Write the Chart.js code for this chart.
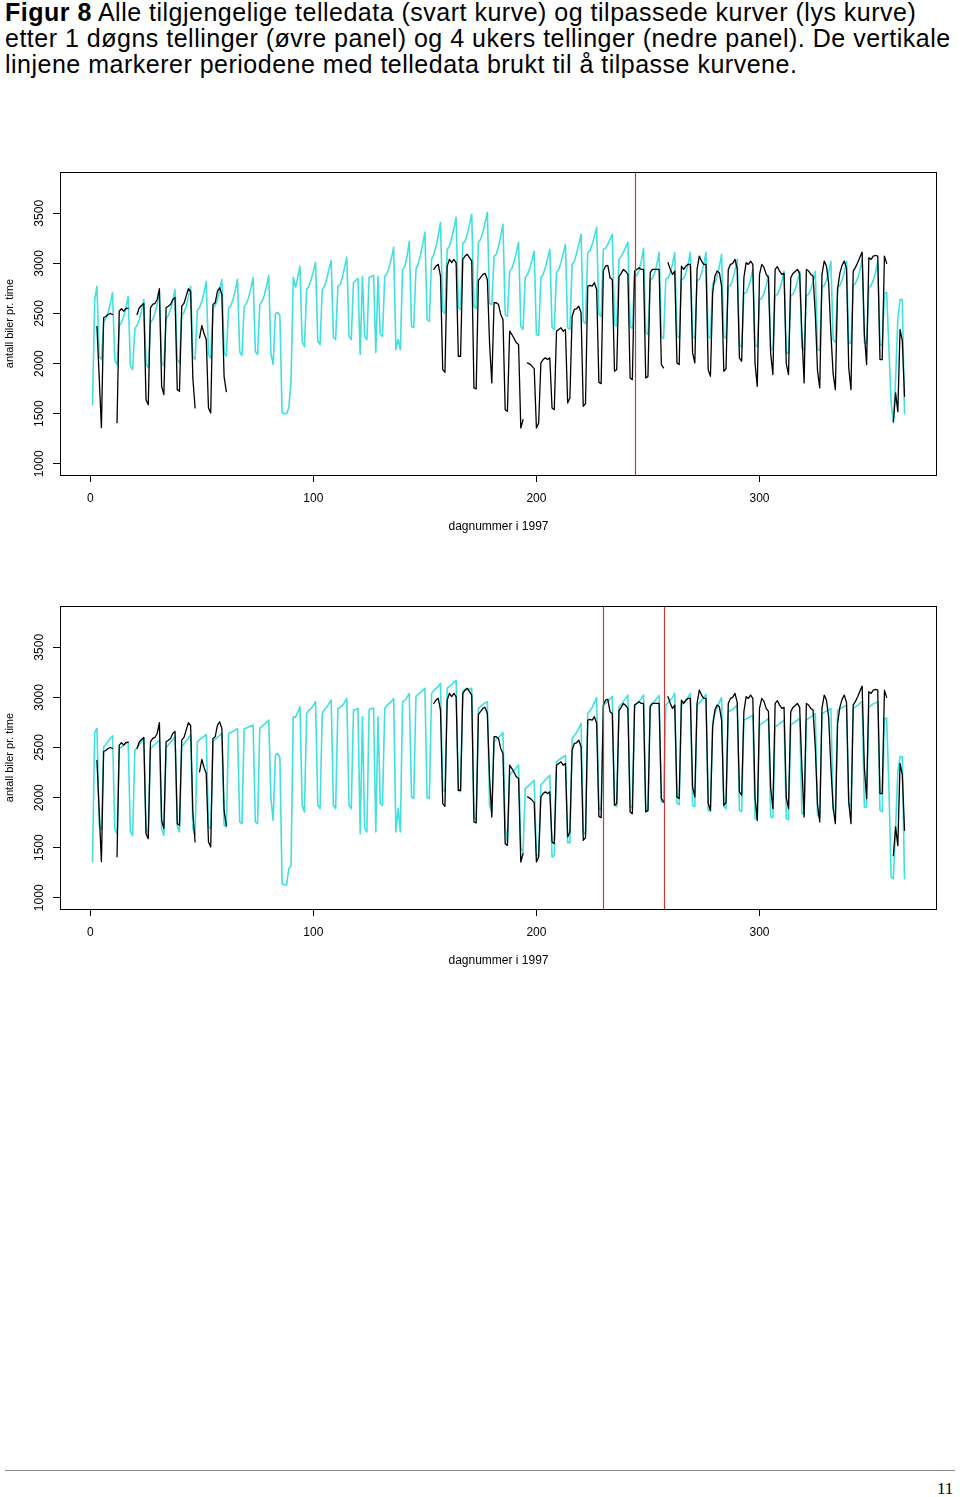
<!DOCTYPE html>
<html><head><meta charset="utf-8">
<script src="https://cdn.jsdelivr.net/npm/chart.js@4.4.1/dist/chart.umd.min.js"></script>
<style>
html,body{margin:0;padding:0;background:#fff;}
body{width:960px;height:1497px;position:relative;overflow:hidden;font-family:"Liberation Sans",Arial,sans-serif;}
#title{position:absolute;left:5px;top:-1px;font-size:25px;line-height:26px;color:#000;white-space:nowrap;letter-spacing:0.5px;}
.panel{position:absolute;left:0;width:960px;height:400px;}
#hr{position:absolute;left:5px;top:1470px;width:950px;height:0;border-top:1px solid #8a8a8a;}
#pg{position:absolute;left:937px;top:1479px;font-family:"Liberation Serif",serif;font-size:17px;color:#000;}
</style></head>
<body>
<div id="title"><b>Figur 8</b> Alle tilgjengelige telledata (svart kurve) og tilpassede kurver (lys kurve)<br>etter 1 døgns tellinger (øvre panel) og 4 ukers tellinger (nedre panel). De vertikale<br>linjene markerer periodene med telledata brukt til å tilpasse kurvene.</div>
<canvas id="c1" class="panel" width="960" height="400" style="top:150px"></canvas>
<canvas id="c2" class="panel" width="960" height="400" style="top:584px"></canvas>
<div id="hr"></div>
<div id="pg">11</div>
<script>
// ---- data: day number 1..365 (1997), one row per week ----
const FIRST_DAY = 1;
const X_TICKS = [0, 100, 200, 300];
const Y_TICKS = [1000, 1500, 2000, 2500, 3000, 3500];
const FIT_PERIOD_TOP = [244];          // red vertical line(s), upper panel
const FIT_PERIOD_BOTTOM = [230, 257];  // red vertical lines, lower panel

// observed counts (black curve)
const observed = [
null,null,2370,1870,1360,
2460,2470,2490,2500,2490,null,1410,
2523,2547,2523,2550,2550,null,null,
null,2490,2557,2580,2600,1640,1590,
2557,2590,2600,2640,2747,1773,1690,
2557,2573,2590,2640,2660,1740,1723,
2573,2600,2673,2747,2720,1850,1557,
null,2257,2380,2300,2240,1557,1507,
2590,2607,2720,2757,2690,1870,1720,
null,null,null,null,null,null,null,
null,null,null,null,null,null,null,
null,null,null,null,null,null,null,
null,null,null,null,null,null,null,
null,null,null,null,null,null,null,
null,null,null,null,null,null,null,
null,null,null,null,null,null,null,
null,null,null,null,null,null,null,
null,null,null,null,null,null,null,
null,null,null,null,null,null,null,
null,null,null,null,null,null,null,
null,null,null,null,null,null,null,
null,null,null,null,null,null,null,
null,2940,2973,2990,2873,1940,1913,
2973,3040,3007,3040,3007,2073,2073,
3040,3073,3090,3057,3023,1757,1747,
2830,2860,2890,2900,2840,2200,1807,
2607,2607,2590,2490,2440,1540,1523,
2323,2290,2250,2207,2190,1357,1440,
null,2007,1995,1975,1950,1357,1407,
2007,2040,2057,2040,2057,1557,1540,
2323,2340,2357,2323,2340,1607,1657,
2473,2540,2547,2573,2510,1573,1600,
2773,2780,2773,2807,2740,1813,1800,
2923,2973,2980,2857,2840,1923,1940,
2867,2900,2940,2920,2890,1857,1840,
2923,2940,2957,2940,2940,1857,1870,
2907,2940,2940,2940,2940,1990,1957,
null,3007,2940,2890,2923,2007,1990,
2973,2940,2973,2990,2990,2107,2007,
2940,3073,3023,2990,2990,1940,1873,
2707,2873,2923,2907,2773,1923,1950,
2940,2990,3000,3040,2950,2057,2023,
2857,3007,2990,3023,2990,2000,1773,
2890,2990,2960,2890,2860,2100,1890,
2940,2967,2923,2890,2900,2000,1890,
2857,2900,2920,2940,2900,2300,1807,
2940,2923,2890,2873,2500,1930,1757,
2890,3023,2973,2800,2300,1900,1740,
2740,2900,2980,3023,2950,1957,1740,
2923,2960,3007,3060,3113,2300,1990,
3057,3040,3073,3080,3073,2040,2040,
3073,3000,null,null,1420,1707,1520,
2340,2230,1673
];

// fitted curve after 1-day counts (upper panel, cyan)
const fitOneDay = [
1590,2640,2770,2070,2040,
2420,2450,2510,2600,2710,2030,1990,
2380,2410,2470,2560,2670,1980,1940,
2350,2380,2440,2530,2640,2000,1960,
2410,2440,2500,2590,2700,2010,1975,
2450,2480,2540,2630,2740,2040,2005,
2480,2510,2570,2660,2770,2070,2040,
2530,2560,2620,2710,2820,2090,2055,
2550,2580,2640,2730,2840,2110,2075,
2550,2580,2640,2730,2840,2115,2080,
2570,2600,2660,2750,2860,2120,2090,
2590,2620,2680,2770,2880,2100,1990,
2500,2510,2480,1510,1500,1500,1560,
1820,2860,2760,2860,2970,2220,2170,
2740,2770,2840,2920,3010,2220,2190,
2740,2770,2850,2940,3030,2260,2240,
2770,2790,2860,2960,3060,2270,2240,
2810,2830,2850,2090,2870,2270,2240,
2860,2870,2880,2110,2870,2290,2270,
2870,2900,2960,3050,3160,2140,2240,
2140,2940,2970,3070,3220,2370,2360,
2940,3000,3080,3190,3310,2440,2420,
3040,3090,3170,3280,3410,2520,2500,
3140,3170,3250,3350,3460,2560,2540,
3200,3220,3290,3390,3490,2570,2550,
3210,3240,3310,3410,3510,2600,2590,
3070,3090,3170,3270,3390,2490,2470,
2920,2950,3020,3110,3210,2370,2340,
2860,2890,2950,3030,3120,2290,2280,
2860,2890,2960,3050,3140,2360,2340,
2910,2940,3010,3100,3190,2360,2340,
2990,3020,3100,3190,3290,2420,2400,
3110,3130,3190,3270,3360,2490,2470,
3140,3150,3190,3240,3290,2390,2370,
3040,3070,3110,3160,3210,2370,2350,
2870,2880,2930,3020,3150,2310,2290,
2840,2850,2900,2990,3110,2270,2250,
2845,2855,2905,2995,3105,2275,2255,
2840,2850,2900,2990,3110,2270,2250,
2830,2840,2900,2990,3110,2270,2250,
2800,2810,2870,2970,3090,2270,2250,
2770,2780,2840,2930,3040,2180,2170,
2700,2710,2760,2840,2940,2190,2170,
2640,2650,2700,2780,2880,2140,2140,
2680,2690,2740,2820,2920,2110,2100,
2680,2690,2740,2820,2920,2150,2140,
2680,2690,2740,2820,2920,2140,2130,
2760,2780,2830,2910,3020,2240,2210,
2760,2780,2830,2910,3020,2210,2200,
2780,2800,2850,2930,3040,2210,2200,
2760,2780,2830,2910,3020,2190,2180,
2700,2710,2150,1610,1410,1840,2450,
2640,2640,1500
];

// fitted curve after 4 weeks of counts (lower panel, cyan)
const fitFourWeeks = [
1360,2650,2690,1730,1680,
2507,2530,2560,2590,2617,1690,1640,
2490,2505,2520,2540,2557,1657,1623,
2473,2500,2530,2560,2590,1690,1640,
2490,2510,2530,2550,2573,1690,1623,
2500,2525,2550,2580,2607,1720,1657,
2507,2535,2565,2595,2623,1690,1623,
2557,2575,2595,2610,2630,1707,1690,
2557,2580,2600,2620,2640,1723,1707,
2640,2650,2660,2675,2690,1757,1740,
2690,2695,2705,2715,2723,1757,1740,
2690,2710,2730,2750,2773,1990,1773,
2423,2440,2400,1140,1130,1130,1290,
1320,2807,2800,2850,2907,1923,1857,
2840,2870,2890,2920,2957,1923,1890,
2840,2880,2900,2940,2973,1923,1890,
2890,2900,2920,2950,2990,1923,1890,
2873,2880,2890,1640,2807,1700,1657,
2873,2890,2890,1657,2807,1940,1923,
2890,2920,2940,2960,2990,1657,1890,
1657,2957,2970,3000,3040,2007,1990,
3010,3030,3050,3070,3090,2000,1990,
3040,3070,3090,3110,3140,2080,2060,
3090,3110,3130,3150,3170,2070,2060,
3060,3080,3080,3085,3090,1800,1780,
2890,2910,2930,2945,2957,1923,1850,
2557,2580,2600,2620,2650,1700,1560,
2223,2250,2270,2300,2323,1500,1450,
2090,2110,2130,2150,2173,1423,1420,
2123,2150,2175,2200,2223,1407,1420,
2357,2375,2390,2405,2423,1550,1550,
2590,2620,2650,2690,2740,1657,1640,
2840,2870,2900,2950,2997,1890,1880,
2923,2940,2960,2985,3007,1923,1910,
2907,2930,2960,2990,3023,1907,1900,
2923,2940,2960,2990,3023,1873,1870,
2920,2938,2962,2992,3020,1957,1950,
2923,2945,2970,3000,3040,1940,1930,
2925,2947,2968,3002,3040,1923,1910,
2923,2945,2970,3000,3030,1873,1860,
2760,2840,2900,2950,2997,1907,1890,
2860,2870,2880,2900,2923,1873,1860,
2773,2785,2795,2810,2823,1790,1780,
2723,2740,2755,2770,2790,1807,1800,
2707,2720,2735,2755,2773,1790,1780,
2725,2740,2757,2772,2790,1840,1830,
2773,2790,2805,2820,2840,1823,1810,
2840,2850,2865,2875,2890,1873,1860,
2873,2885,2900,2910,2923,1923,1910,
2890,2905,2920,2940,2957,1907,1900,
2907,2920,2935,2945,2957,1873,1860,
2790,2790,2100,1207,1190,1700,2257,
2407,2407,1190
];

// ---- drawing ----
const FONT = '"Liberation Sans", Arial, sans-serif';
function toPoints(arr){ return arr.map((v,i)=>({x: FIRST_DAY + i, y: v})); }

const boxPlugin = {
  id: 'box',
  afterDatasetsDraw(chart, args, opts){
    const {ctx, chartArea:a, scales} = chart;
    ctx.save();
    ctx.strokeStyle = 'rgb(205,55,55)';
    ctx.lineWidth = 1.2;
    (opts.marks || []).forEach(d=>{
      const px = Math.round(scales.x.getPixelForValue(d)) + 0.5;
      ctx.beginPath(); ctx.moveTo(px, a.top); ctx.lineTo(px, a.bottom); ctx.stroke();
    });
    ctx.strokeStyle = '#000';
    ctx.lineWidth = 1;
    ctx.strokeRect(a.left + 0.5, a.top + 0.5, a.right - a.left - 1, a.bottom - a.top);
    ctx.restore();
  }
};

function makePanel(id, fit, marks){
  return new Chart(document.getElementById(id), {
    type: 'line',
    data: { datasets: [
      { data: toPoints(observed), borderColor: '#000', borderWidth: 1.3, pointRadius: 0,
        spanGaps: false, tension: 0, borderJoinStyle: 'round', borderCapStyle: 'round' },
      { data: toPoints(fit), borderColor: 'rgb(64,224,224)', borderWidth: 1.6, pointRadius: 0,
        spanGaps: false, tension: 0, borderJoinStyle: 'round', borderCapStyle: 'round' }
    ]},
    options: {
      animation: false, responsive: false, events: [],
      layout: { padding: { left: 0, right: 23, top: 22, bottom: 0 } },
      plugins: { legend: { display: false }, tooltip: { enabled: false }, box: { marks } },
      scales: {
        x: {
          type: 'linear', min: -13.56, max: 379.56,
          afterBuildTicks: s => { s.ticks = X_TICKS.map(v => ({ value: v })); },
          afterFit: s => { s.height = 75; },
          border: { display: false },
          grid: { drawOnChartArea: false, drawTicks: true, tickLength: 7, tickColor: '#000', tickWidth: 1 },
          ticks: { color: '#000', font: { family: FONT, size: 12 }, padding: 9.5, maxRotation: 0, autoSkip: false,
                   callback: v => String(v) },
          title: { display: true, text: 'dagnummer i 1997', color: '#000', font: { family: FONT, size: 12 },
                   padding: { top: 0, bottom: 16 } }
        },
        y: {
          type: 'linear', min: 888, max: 3912,
          afterBuildTicks: s => { s.ticks = Y_TICKS.map(v => ({ value: v })); },
          afterFit: s => { s.width = 60; },
          border: { display: false },
          grid: { drawOnChartArea: false, drawTicks: true, tickLength: 7, tickColor: '#000', tickWidth: 1 },
          ticks: { color: '#000', font: { family: FONT, size: 12 }, padding: 0, minRotation: 90, maxRotation: 90,
                   crossAlign: 'center', autoSkip: false, callback: v => String(v) },
          title: { display: true, text: 'antall biler pr. time', color: '#000', font: { family: FONT, size: 11 },
                   padding: { top: 3.5, bottom: 0 } }
        }
      }
    },
    plugins: [boxPlugin]
  });
}
makePanel('c1', fitOneDay, FIT_PERIOD_TOP);
makePanel('c2', fitFourWeeks, FIT_PERIOD_BOTTOM);
</script>
</body></html>
